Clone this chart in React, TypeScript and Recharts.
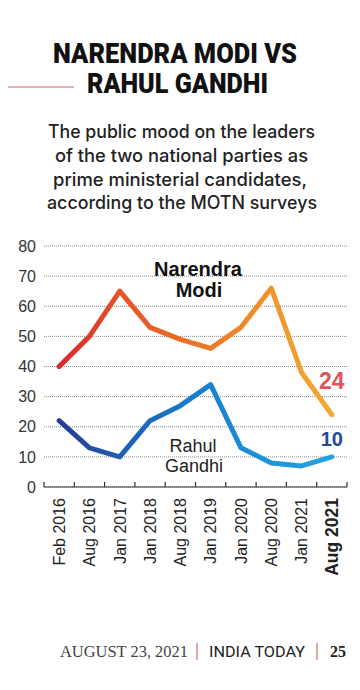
import React from 'react';
import { LineChart, Line, XAxis, YAxis, CartesianGrid, LabelList } from 'recharts';

const categories = ['Feb 2016', 'Aug 2016', 'Jan 2017', 'Jan 2018', 'Aug 2018', 'Jan 2019', 'Jan 2020', 'Aug 2020', 'Jan 2021', 'Aug 2021'];
const modiValues = [40, 50, 65, 53, 49, 46, 53, 66, 38, 24];
const rahulValues = [22, 13, 10, 22, 27, 34, 13, 8, 7, 10];
const yTicks = [0, 10, 20, 30, 40, 50, 60, 70, 80];
const boundTicks = [0, 1, 2, 3, 4, 5, 6, 7, 8, 9, 10];
const labelTicks = categories.map((_, i) => i + 0.5);

const data = categories.map((c, i) => ({ pos: i + 0.5, label: c, modi: modiValues[i], rahul: rahulValues[i] }));
const lastIndex = categories.length - 1;

const SANS = '"Liberation Sans", Arial, sans-serif';

const XLabelTick = (props: any) => {
  const { x, y, payload } = props;
  const idx = Math.floor(payload.value);
  const isLast = idx === lastIndex;
  return (
    <text
      transform={`translate(${x},${y}) rotate(-90)`}
      textAnchor="end"
      dy="0.36em"
      fontSize={isLast ? 17.5 : 16}
      fontWeight={isLast ? 'bold' : 'normal'}
      fontFamily={SANS}
      fill="#222"
    >
      {categories[idx]}
    </text>
  );
};

const endLabel = (color: string, size: number, dyOff: number) => (p: any) => {
  if (p.index !== lastIndex) return null;
  return (
    <text x={p.x} y={p.y + dyOff} textAnchor="middle" fontSize={size} fontWeight="bold" fontFamily={SANS} fill={color}>
      {p.value}
    </text>
  );
};

export default function App() {
  return (
    <div style={{ position: 'relative', width: 360, height: 690, margin: -8, background: '#fff', overflow: 'hidden' }}>
      <svg width={360} height={690} style={{ position: 'absolute', left: 0, top: 0 }}>
        <line x1={0} y1={87} x2={74} y2={87} stroke="#d99aa0" strokeWidth={1.5} />
        <text x={175} y={63} textAnchor="middle" fontFamily="Roboto, sans-serif" fontWeight={900} fontSize={28.5} fill="#111" textLength={244} lengthAdjust="spacingAndGlyphs">NARENDRA MODI VS</text>
        <text x={177.5} y={93} textAnchor="middle" fontFamily="Roboto, sans-serif" fontWeight={900} fontSize={28.5} fill="#111" textLength={181} lengthAdjust="spacingAndGlyphs">RAHUL GANDHI</text>

        <text x={181.5} y={138} textAnchor="middle" fontFamily="Inter, sans-serif" fontWeight={500} fontSize={18} fill="#222" textLength={267} lengthAdjust="spacingAndGlyphs">The public mood on the leaders</text>
        <text x={181.5} y={162} textAnchor="middle" fontFamily="Inter, sans-serif" fontWeight={500} fontSize={18} fill="#222" textLength={253} lengthAdjust="spacingAndGlyphs">of the two national parties as</text>
        <text x={180} y={186} textAnchor="middle" fontFamily="Inter, sans-serif" fontWeight={500} fontSize={18} fill="#222" textLength={254} lengthAdjust="spacingAndGlyphs">prime ministerial candidates,</text>
        <text x={182} y={209} textAnchor="middle" fontFamily="Inter, sans-serif" fontWeight={500} fontSize={18} fill="#222" textLength={270} lengthAdjust="spacingAndGlyphs">according to the MOTN surveys</text>

        <text x={60} y={657} fontFamily='"Liberation Serif", serif' fontSize={16} fill="#444" textLength={128} lengthAdjust="spacingAndGlyphs">AUGUST 23, 2021</text>
        <line x1={197} y1={643} x2={197} y2={660} stroke="#e08a8a" strokeWidth={1.5} />
        <text x={209} y={657} fontFamily="Roboto, sans-serif" fontWeight={400} fontSize={15.5} fill="#222" textLength={96} lengthAdjust="spacingAndGlyphs">INDIA TODAY</text>
        <line x1={317} y1={643} x2={317} y2={660} stroke="#e08a8a" strokeWidth={1.5} />
        <text x={330} y={657} fontFamily='"Liberation Serif", serif' fontWeight="bold" fontSize={16} fill="#222" textLength={16} lengthAdjust="spacingAndGlyphs">25</text>
      </svg>

      <div style={{ position: 'absolute', left: 0, top: 0 }}>
        <LineChart width={360} height={600} data={data} margin={{ top: 246, right: 13, left: 0, bottom: 19 }}>
          <defs>
            <linearGradient id="modiGrad" x1="0" y1="0" x2="1" y2="0">
              <stop offset="0%" stopColor="#d8262a" />
              <stop offset="22%" stopColor="#e6522a" />
              <stop offset="55%" stopColor="#ec7a27" />
              <stop offset="78%" stopColor="#f0952a" />
              <stop offset="100%" stopColor="#f3a934" />
            </linearGradient>
            <linearGradient id="rahulGrad" x1="0" y1="0" x2="1" y2="0">
              <stop offset="0%" stopColor="#283c93" />
              <stop offset="22%" stopColor="#1f5db3" />
              <stop offset="45%" stopColor="#1a78c8" />
              <stop offset="75%" stopColor="#1b93da" />
              <stop offset="100%" stopColor="#24a2e2" />
            </linearGradient>
          </defs>
          <CartesianGrid xAxisId="bounds" yAxisId="y" vertical={false} stroke="#8a8a8a" strokeDasharray="1 1" />
          <YAxis
            yAxisId="y"
            domain={[0, 80]}
            ticks={yTicks}
            axisLine={false}
            tickLine={false}
            width={44}
            interval={0}
            tick={{ fontSize: 16, fill: '#333', fontFamily: SANS }}
          />
          <XAxis
            xAxisId="bounds"
            type="number"
            dataKey="pos"
            domain={[0, 10]}
            ticks={boundTicks}
            interval={0}
            height={1}
            axisLine={{ stroke: '#333', strokeWidth: 1.2 }}
            tickLine={{ stroke: '#333', strokeWidth: 1.2 }}
            tickSize={-5}
            tick={() => <g />}
          />
          <XAxis
            xAxisId="labels"
            type="number"
            dataKey="pos"
            domain={[0, 10]}
            ticks={labelTicks}
            interval={0}
            height={93}
            axisLine={false}
            tickLine={false}
            tickMargin={4}
            tick={<XLabelTick />}
          />
          <Line
            xAxisId="bounds"
            yAxisId="y"
            type="linear"
            dataKey="modi"
            stroke="url(#modiGrad)"
            strokeWidth={5}
            strokeLinejoin="round"
            strokeLinecap="round"
            dot={false}
            isAnimationActive={false}
          >
            <LabelList dataKey="modi" content={endLabel('#e0535a', 23, -26)} />
          </Line>
          <Line
            xAxisId="bounds"
            yAxisId="y"
            type="linear"
            dataKey="rahul"
            stroke="url(#rahulGrad)"
            strokeWidth={5}
            strokeLinejoin="round"
            strokeLinecap="round"
            dot={false}
            isAnimationActive={false}
          >
            <LabelList dataKey="rahul" content={endLabel('#1f4a99', 20, -11)} />
          </Line>
        </LineChart>
      </div>

      <svg width={360} height={690} style={{ position: 'absolute', left: 0, top: 0, pointerEvents: 'none' }}>
        <text x={198} y={276} textAnchor="middle" fontFamily={SANS} fontWeight="bold" fontSize={20} fill="#111">Narendra</text>
        <text x={199} y={297} textAnchor="middle" fontFamily={SANS} fontWeight="bold" fontSize={20} fill="#111">Modi</text>
        <text x={193} y={452} textAnchor="middle" fontFamily={SANS} fontSize={18} fill="#222">Rahul</text>
        <text x={194} y={472} textAnchor="middle" fontFamily={SANS} fontSize={18} fill="#222">Gandhi</text>
      </svg>
    </div>
  );
}
